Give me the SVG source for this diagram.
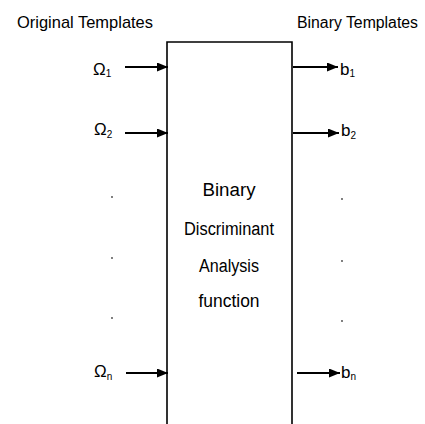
<svg xmlns="http://www.w3.org/2000/svg" width="425" height="424" viewBox="0 0 425 424">
  <defs>
    <marker id="arrow" viewBox="0 0 11 9" refX="11" refY="4.5" markerWidth="11" markerHeight="9" markerUnits="userSpaceOnUse" orient="auto">
      <path d="M0,0 L11,4.5 L0,9 Z" fill="#000"/>
    </marker>
  </defs>
  <style>
    text { font-family: "Liberation Sans", Arial, sans-serif; fill: #000; }
    .title { font-size: 17px; }
    .body { font-size: 18px; text-anchor: middle; }
    .sym { font-size: 17px; }
    .sub { font-size: 10px; }
    .conn { stroke: #000; stroke-width: 1.8; fill: none; marker-end: url(#arrow); }
    .dot { fill: #444; }
  </style>
  <rect width="425" height="424" fill="#fff"/>

  <!-- column headings -->
  <text class="title" x="17" y="28" textLength="136" lengthAdjust="spacingAndGlyphs">Original Templates</text>
  <text class="title" x="297" y="28" style="font-size:16px" textLength="121" lengthAdjust="spacingAndGlyphs">Binary Templates</text>

  <!-- central function block -->
  <g id="bda">
    <path d="M167,424 V42 H292 V424" fill="none" stroke="#000" stroke-width="1.6"/>
    <text class="body" x="229" y="196" textLength="53" lengthAdjust="spacingAndGlyphs">Binary</text>
    <text class="body" x="229" y="235" textLength="90" lengthAdjust="spacingAndGlyphs">Discriminant</text>
    <text class="body" x="229" y="272" textLength="60" lengthAdjust="spacingAndGlyphs">Analysis</text>
    <text class="body" x="229" y="307" textLength="61" lengthAdjust="spacingAndGlyphs">function</text>
  </g>

  <!-- inputs -->
  <g id="in1"><text class="sym" x="93" y="75">Ω<tspan class="sub" dy="2">1</tspan></text></g>
  <g id="in2"><text class="sym" x="94" y="135">Ω<tspan class="sub" dy="3">2</tspan></text></g>
  <g id="inN"><text class="sym" x="94" y="377">Ω<tspan class="sub" dy="3">n</tspan></text></g>

  <!-- outputs -->
  <g id="out1"><text class="sym" x="340" y="75">b<tspan class="sub" dy="2">1</tspan></text></g>
  <g id="out2"><text class="sym" x="341" y="136">b<tspan class="sub" dy="3">2</tspan></text></g>
  <g id="outN"><text class="sym" x="341" y="378">b<tspan class="sub" dy="2">n</tspan></text></g>

  <!-- ellipsis dots -->
  <g id="ellipsis">
    <circle class="dot" cx="112" cy="197" r="0.9"/>
    <circle class="dot" cx="112" cy="258" r="0.9"/>
    <circle class="dot" cx="112" cy="318" r="0.9"/>
    <circle class="dot" cx="342" cy="199" r="0.9"/>
    <circle class="dot" cx="342" cy="261" r="0.9"/>
    <circle class="dot" cx="342" cy="321" r="0.9"/>
  </g>

  <g id="connectors">
    <line class="conn" x1="125" y1="67" x2="168" y2="67"/>
    <line class="conn" x1="125" y1="133" x2="168" y2="133"/>
    <line class="conn" x1="126" y1="373" x2="168" y2="373"/>
    <line class="conn" x1="293" y1="67" x2="338" y2="67"/>
    <line class="conn" x1="293" y1="133" x2="339" y2="133"/>
    <line class="conn" x1="297" y1="373" x2="340" y2="373"/>
  </g>
</svg>
